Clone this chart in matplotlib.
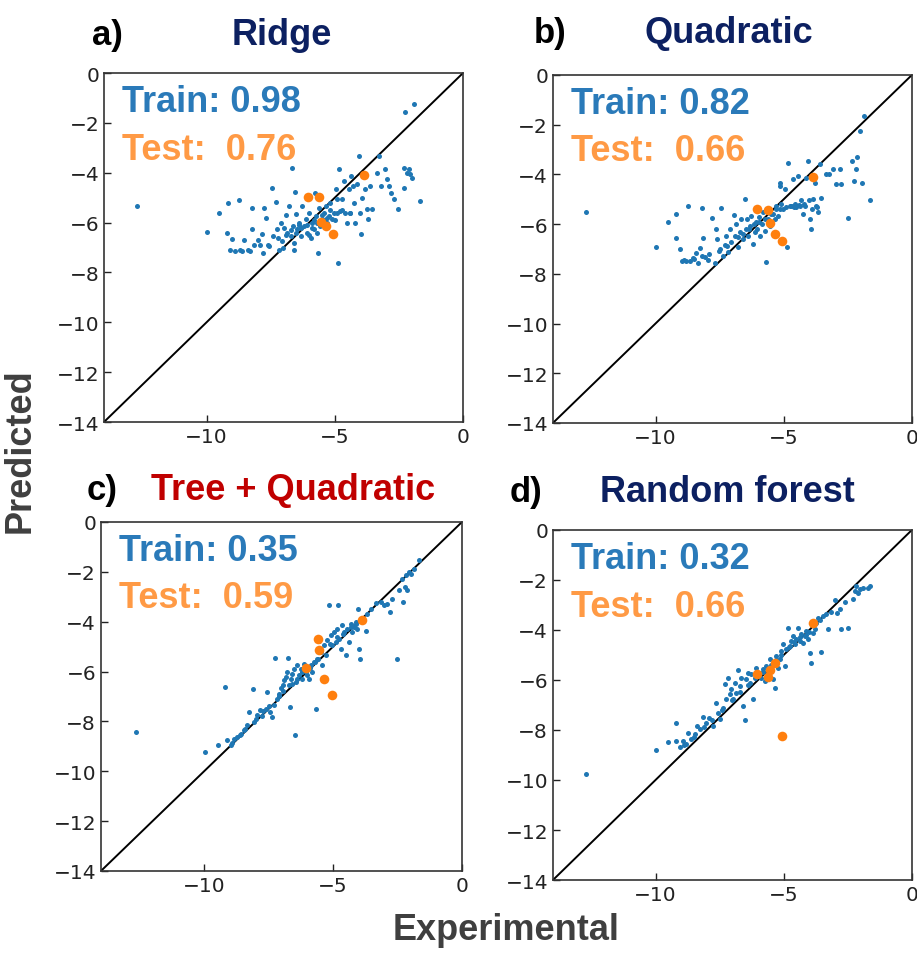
import matplotlib
matplotlib.use("Agg")
import matplotlib.pyplot as plt

plt.rcParams["font.family"] = ["DejaVu Sans"]

# ---- data (experimental, predicted) ----
titles = ["Ridge", "Quadratic", "Tree + Quadratic", "Random forest"]
letters = ["a)", "b)", "c)", "d)"]
train_r = ["0.98", "0.82", "0.35", "0.32"]
test_r = ["0.76", "0.66", "0.59", "0.66"]

# test points
test_x = [-6.03, -5.6, -5.55, -5.35, -5.05, -3.86]
test_y_a = [-4.96, -4.96, -5.98, -6.14, -6.45, -4.10]
test_y_b = [-5.39, -5.44, -5.94, -6.38, -6.68, -4.09]
test_y_c = [-5.86, -4.69, -5.15, -6.31, -6.93, -3.92]
test_y_d = [-5.77, -5.87, -5.60, -5.33, -8.24, -3.71]

# train points, panel a (Ridge)
xa = [-12.71, -10.0, -9.53, -9.17, -8.75, -9.19, -9.02, -9.1, -8.9, -8.71, -8.54, -8.4,
      -8.21, -8.21, -8.14, -8.0, -7.82, -7.76, -7.69, -7.78, -7.56, -7.43, -7.39, -7.3,
      -7.24, -7.17, -7.11, -7.04, -6.98, -6.92, -6.85, -6.79, -6.72, -6.66, -6.63, -6.59,
      -6.55, -6.53, -6.46, -6.4, -6.33, -6.27, -6.2, -6.14, -6.07, -6.0, -5.94, -5.88,
      -5.81, -5.78, -5.75, -5.69, -5.65, -5.62, -5.56, -5.49, -5.43, -5.36, -5.3, -5.23,
      -5.17, -5.1, -5.04, -4.97, -4.9, -4.87, -4.84, -4.78, -4.71, -4.65, -4.59, -4.52,
      -4.46, -4.39, -4.35, -4.3, -4.25, -4.2, -4.13, -4.07, -4.03, -3.97, -3.94, -3.87,
      -3.81, -3.75, -3.71, -3.62, -3.55, -3.36, -3.29, -3.19, -3.03, -2.97, -2.9, -2.8,
      -2.71, -2.52, -2.32, -2.26, -2.19, -2.1, -2.06, -2.0, -1.9, -1.68, -2.32,
      -7.6, -7.2, -6.9, -6.7, -6.5, -6.3, -6.1, -5.9, -5.8, -5.7, -5.5, -5.3, -5.2,
      -4.9, -4.7, -4.4, -6.6, -6.4, -7.0, -6.0, -8.6, -8.3, -7.9, -5.4, -5.0]
ya = [-5.34, -6.38, -5.63, -5.2, -5.09, -6.43, -6.65, -7.1, -7.14, -7.1, -6.7, -7.1,
      -5.4, -6.27, -6.88, -6.68, -6.47, -5.4, -5.8, -7.21, -6.94, -4.6, -6.54, -5.16,
      -6.27, -7.08, -6.0, -6.74, -6.2, -5.71, -6.4, -5.34, -6.54, -3.79, -6.14, -7.08,
      -4.77, -5.67, -6.27, -6.0, -6.54, -5.34, -6.14, -5.87, -6.4, -5.6, -6.6, -6.0,
      -6.27, -4.8, -5.74, -6.4, -7.21, -5.4, -6.14, -5.87, -5.6, -5.34, -6.0, -5.74,
      -5.2, -5.87, -5.6, -4.66, -5.07, -7.61, -3.86, -5.52, -5.07, -4.33, -5.6, -6.0,
      -4.66, -5.6, -4.13, -4.53, -5.2, -6.0, -4.46, -3.32, -5.6, -6.47, -5.0, -4.13,
      -4.66, -5.47, -5.87, -4.53, -5.47, -4.0, -3.32, -4.53, -3.86, -4.26, -4.53, -4.8,
      -5.07, -5.44, -3.79, -1.58, -4.0, -3.86, -4.06, -4.2, -1.25, -5.13, -4.6,
      -6.9, -6.6, -6.5, -6.3, -6.4, -6.2, -6.1, -6.2, -5.9, -6.0, -5.7, -5.8, -5.5,
      -5.6, -5.5, -5.6, -6.8, -6.1, -7.0, -6.5, -7.15, -7.15, -6.9, -5.9, -5.9]

# train points, panel b (Quadratic)
xb = [-12.72, -10.0, -9.51, -9.19, -9.21, -9.06, -8.95, -8.73, -8.8, -8.64, -8.54, -8.44,
      -8.33, -8.28, -8.17, -8.15, -8.08, -7.95, -7.78, -7.69, -7.63, -7.6, -7.52, -7.43,
      -7.37, -7.3, -7.24, -7.16, -7.1, -7.04, -6.95, -6.9, -6.85, -6.78, -6.72, -6.65,
      -6.59, -6.52, -6.48, -6.43, -6.38, -6.33, -6.26, -6.2, -6.14, -6.09, -6.03, -5.96,
      -5.91, -5.86, -5.81, -5.74, -5.68, -5.62, -5.55, -5.42, -5.35, -5.29, -5.22, -5.16,
      -5.09, -5.03, -4.96, -4.87, -4.83, -4.77, -4.7, -4.64, -4.57, -4.51, -4.44, -4.38,
      -4.31, -4.25, -4.18, -4.12, -4.05, -4.01, -3.96, -3.92, -3.86, -3.79, -3.73, -3.66,
      -3.6, -3.53, -3.36, -3.23, -3.08, -2.95, -2.82, -2.75, -2.49, -2.32, -2.27, -2.17,
      -2.14, -2.04, -1.93, -1.87, -1.62, -5.16, -5.16, -4.64,
      -8.9, -8.5, -8.2, -7.9, -7.5, -7.2, -6.8, -6.6, -6.35, -6.15, -5.95, -5.75, -5.5,
      -5.3, -4.9, -4.6, -4.4, -4.2, -3.9, -3.7]
yb = [-5.5, -6.94, -5.9, -5.6, -6.57, -6.99, -7.48, -5.29, -7.48, -7.48, -7.35, -7.15,
      -7.55, -6.97, -5.36, -6.57, -7.32, -7.45, -5.76, -7.55, -6.21, -6.6, -7.08, -5.34,
      -7.27, -6.86, -6.47, -7.13, -6.2, -6.74, -5.63, -6.47, -6.0, -6.93, -6.33, -5.79,
      -6.6, -5.01, -6.2, -5.79, -6.47, -6.08, -5.66, -6.79, -6.33, -5.93, -6.2, -5.72,
      -6.47, -6.0, -5.52, -6.26, -7.53, -5.79, -6.06, -5.6, -5.79, -5.26, -5.66, -5.39,
      -5.2, -5.39, -4.59, -6.94, -3.55, -5.26, -5.26, -5.26, -5.2, -5.33, -4.06, -5.26,
      -5.05, -5.6, -5.26, -4.13, -3.46, -5.05, -5.79, -6.2, -4.99, -4.33, -5.26, -5.52,
      -3.59, -4.97, -3.97, -3.97, -3.79, -4.4, -3.79, -4.38, -5.76, -3.46, -4.26, -3.79,
      -3.32, -2.25, -4.33, -1.65, -5.04, -4.46, -4.33, -4.2,
      -7.45, -7.4, -7.3, -7.2, -7.0, -6.9, -6.5, -6.4, -6.2, -6.0, -5.9, -5.8, -5.6,
      -5.4, -5.3, -5.3, -5.25, -5.2, -5.4, -5.3]

# train points, panel c (Tree + Quadratic)
xc = [-12.65, -9.97, -9.48, -9.19, -9.1, -8.97, -8.84, -8.71, -8.58, -8.45, -8.32, -8.26,
      -8.1, -8.06, -7.93, -7.83, -7.74, -7.61, -7.58, -7.44, -7.35, -7.29, -7.25, -7.18,
      -7.09, -7.03, -6.96, -6.9, -6.83, -6.77, -6.74, -6.7, -6.67, -6.64, -6.58, -6.51,
      -6.49, -6.45, -6.38, -6.32, -6.25, -6.19, -6.12, -6.06, -6.0, -5.93, -5.87, -5.8,
      -5.74, -5.67, -5.61, -5.54, -5.48, -5.41, -5.35, -5.28, -5.22, -5.17, -5.09, -5.03,
      -4.96, -4.9, -4.83, -4.81, -4.77, -4.7, -4.64, -4.57, -4.51, -4.44, -4.38, -4.32,
      -4.25, -4.19, -4.12, -4.06, -4.03, -3.99, -3.95, -3.93, -3.73, -3.67, -3.54, -3.35,
      -3.15, -3.02, -2.89, -2.79, -2.7, -2.51, -2.44, -2.31, -2.27, -2.22, -2.14, -2.05,
      -1.96, -1.86, -1.67, -2.18,
      -8.9, -8.6, -8.4, -8.0, -7.7, -7.5, -7.1, -6.95, -6.6, -6.4, -6.2, -6.1, -5.9,
      -5.7, -5.6, -5.1, -4.85, -4.6, -4.3, -4.1]
yc = [-8.42, -9.22, -8.93, -6.62, -8.76, -8.96, -8.69, -8.62, -8.49, -8.36, -8.16, -7.62,
      -6.71, -8.02, -7.75, -7.55, -7.78, -7.49, -6.82, -7.62, -7.82, -7.35, -5.45, -7.09,
      -6.89, -6.68, -6.55, -6.35, -6.22, -6.02, -5.45, -6.55, -7.42, -6.28, -6.08, -5.88,
      -8.53, -6.42, -5.75, -6.15, -5.88, -6.28, -5.68, -6.02, -6.15, -6.28, -5.75, -6.02,
      -5.61, -7.49, -5.48, -4.79, -5.21, -5.75, -4.95, -5.35, -4.75, -3.34, -4.55, -4.95,
      -4.41, -4.81, -4.28, -3.32, -4.68, -5.08, -4.14, -4.41, -5.35, -4.28, -4.81, -4.08,
      -4.41, -4.21, -4.01, -4.28, -3.48, -5.11, -5.48, -3.88, -4.39, -3.68, -3.48, -3.24,
      -3.21, -3.34, -3.28, -3.61, -3.07, -5.48, -2.74, -2.27, -3.21, -2.61, -2.74, -2.01,
      -2.07, -1.87, -1.54, -2.14,
      -8.85, -8.55, -8.3, -7.9, -7.6, -7.4, -7.0, -6.8, -6.5, -6.3, -6.0, -5.9, -5.85,
      -5.6, -5.5, -4.9, -4.6, -4.5, -4.2, -4.1]

# train points, panel d (Random forest)
xd = [-12.72, -9.99, -9.51, -9.19, -9.19, -9.06, -8.93, -8.8, -8.72, -8.6, -8.47, -8.38,
      -8.28, -8.15, -8.02, -7.91, -7.76, -7.65, -7.56, -7.47, -7.37, -7.3, -7.24, -7.17,
      -7.11, -7.04, -6.98, -6.91, -6.85, -6.77, -6.72, -6.65, -6.59, -6.52, -6.46, -6.39,
      -6.33, -6.26, -6.2, -6.13, -6.07, -5.94, -5.87, -5.81, -5.74, -5.68, -5.61, -5.55,
      -5.42, -5.35, -5.29, -5.22, -5.16, -5.09, -5.03, -4.96, -4.9, -4.83, -4.77, -4.7,
      -4.64, -4.57, -4.51, -4.44, -4.38, -4.31, -4.25, -4.18, -4.12, -4.05, -3.99, -3.92,
      -3.86, -3.79, -3.73, -3.66, -3.53, -3.47, -3.34, -3.27, -3.14, -3.01, -2.94, -2.82,
      -2.75, -2.49, -2.3, -2.23, -2.17, -2.1, -2.04, -1.91, -1.71, -1.62,
      -8.9, -8.5, -8.1, -7.8, -7.4, -7.0, -6.7, -6.4, -6.0, -5.8, -5.5, -5.3, -5.1,
      -4.8, -4.6, -4.35, -4.15, -4.0, -3.6, -2.6]
yd = [-9.77, -8.8, -8.48, -7.73, -8.44, -8.67, -8.44, -8.57, -8.11, -8.37, -8.17, -7.84,
      -7.97, -7.47, -7.71, -7.51, -7.84, -6.91, -7.31, -7.57, -7.11, -6.17, -6.77, -5.91,
      -6.57, -6.37, -6.77, -6.11, -6.51, -5.6, -6.24, -5.91, -7.04, -7.61, -5.97, -5.71,
      -6.11, -5.77, -6.75, -5.91, -5.51, -5.71, -5.91, -5.57, -6.04, -5.44, -5.77, -5.17,
      -5.97, -6.31, -5.04, -5.51, -5.17, -4.84, -4.57, -5.44, -4.77, -3.91, -4.64, -4.44,
      -4.24, -4.57, -4.37, -3.91, -4.44, -4.17, -4.51, -4.24, -4.04, -4.37, -4.91, -5.31,
      -4.11, -3.97, -3.71, -3.51, -4.88, -3.44, -3.37, -3.97, -3.28, -2.8, -3.31, -3.17,
      -3.97, -3.91, -2.77, -2.44, -2.24, -2.51, -2.37, -2.31, -2.31, -2.24,
      -8.6, -8.3, -7.9, -7.6, -7.2, -6.8, -6.5, -6.2, -5.85, -5.7, -5.4, -5.2, -5.0,
      -4.7, -4.5, -4.3, -4.2, -4.1, -3.6, -2.9]

train_x = [xa, xb, xc, xd]
train_y = [ya, yb, yc, yd]
test_y = [test_y_a, test_y_b, test_y_c, test_y_d]

title_colors = ["#0c2061", "#0c2061", "#c00000", "#0c2061"]
# axes boxes in figure fractions
boxes = [[0.1134, 0.5566, 0.3915, 0.3658],
         [0.6030, 0.5556, 0.3915, 0.3648],
         [0.1101, 0.0860, 0.3937, 0.3658],
         [0.6030, 0.0765, 0.3915, 0.3670]]
letter_pos = [(-0.033, 1.083), (-0.053, 1.095), (-0.039, 1.066), (-0.12, 1.083)]
title_pos = [(0.496, 1.083), (0.49, 1.095), (0.532, 1.066), (0.485, 1.083)]

fig = plt.figure(figsize=(9.17, 9.54), dpi=100)
bold = dict(family=["Liberation Sans", "DejaVu Sans"], weight="bold")

for i in range(4):
    ax = fig.add_axes(boxes[i])
    ax.plot([-14, 0], [-14, 0], color="black", lw=1.4, zorder=1)
    ax.scatter(train_x[i], train_y[i], s=13, color="#1f77b4", linewidths=0, zorder=2)
    ax.scatter(test_x, test_y[i], s=48, color="#ff7f0e", linewidths=0, zorder=3)
    ax.set_xlim(-14, 0)
    ax.set_ylim(-14, 0)
    ax.set_xticks([-10, -5, 0])
    ax.set_yticks([0, -2, -4, -6, -8, -10, -12, -14])
    ax.tick_params(direction="in", length=5, width=1, labelsize=14.5, colors="#222222")
    for sp in ax.spines.values():
        sp.set_linewidth(1.2)
        sp.set_color("#333333")
    ax.text(0.05, 0.89, "Train: " + train_r[i], transform=ax.transAxes,
            color="#2a7ab9", fontsize=26, **bold)
    ax.text(0.05, 0.755, "Test:  " + test_r[i], transform=ax.transAxes,
            color="#ff9a45", fontsize=26, **bold)
    ax.text(letter_pos[i][0], letter_pos[i][1], letters[i], transform=ax.transAxes,
            color="black", fontsize=25, ha="left", va="baseline", **bold)
    ax.text(title_pos[i][0], title_pos[i][1], titles[i], transform=ax.transAxes,
            color=title_colors[i], fontsize=26, ha="center", va="baseline", **bold)

fig.text(0.552, 0.006, "Experimental", ha="center", va="bottom", color="#3f3f3f",
         fontsize=26, **bold)
fig.text(0.003, 0.528, "Predicted", ha="left", va="center", rotation=90,
         color="#3f3f3f", fontsize=26, **bold)

fig.savefig("out.png", dpi=100)
